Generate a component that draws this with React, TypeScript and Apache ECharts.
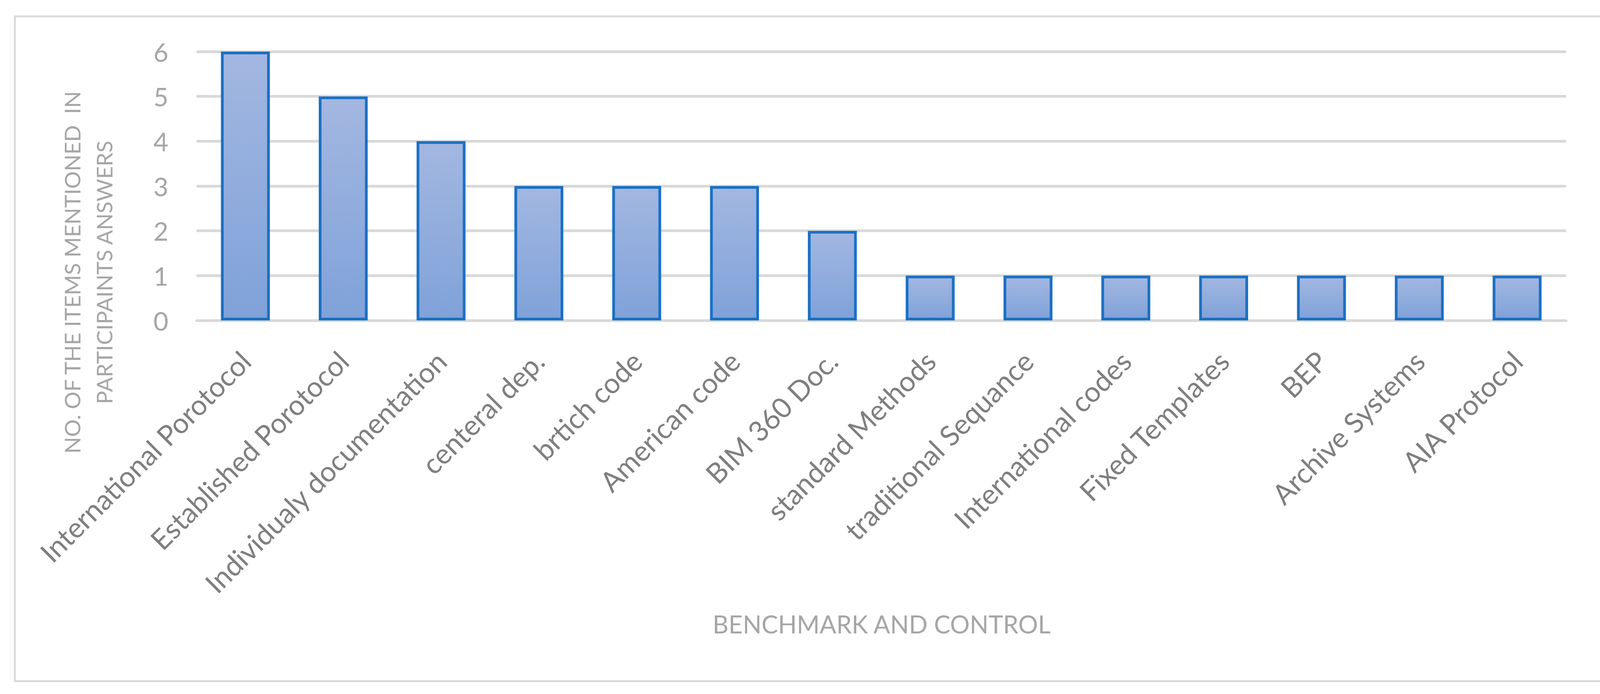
import React, { useEffect, useRef } from "react";
import * as echarts from "echarts";

const categories = [
  "International Porotocol",
  "Established Porotocol",
  "Individualy documentation",
  "centeral dep.",
  "brtich code",
  "American code",
  "BIM 360 Doc.",
  "standard Methods",
  "traditional Sequance",
  "International codes",
  "Fixed Templates",
  "BEP",
  "Archive Systems",
  "AIA Protocol",
];
const counts = [6, 5, 4, 3, 3, 3, 2, 1, 1, 1, 1, 1, 1, 1];
const yMin = 0;
const yMax = 6;
const yStep = 1;
const xTitle = "BENCHMARK AND CONTROL";
const yTitleLines = ["NO. OF THE ITEMS MENTIONED  IN", "PARTICIPAINTS ANSWERS"];

const FONT = "Lato, 'Open Sans', sans-serif";

export default function App() {
  const ref = useRef<HTMLDivElement>(null);
  useEffect(() => {
    if (!ref.current) return;
    const chart = echarts.init(ref.current, null, { renderer: "svg" });
    chart.setOption({
      animation: false,
      backgroundColor: "#ffffff",
      textStyle: { fontFamily: FONT },
      grid: { left: 503, right: 137, top: 132, bottom: 956, containLabel: false, outerBoundsMode: "none" },
      xAxis: {
        type: "category",
        data: categories,
        axisLine: { show: true, lineStyle: { color: "#d9d9d9", width: 7 } },
        axisTick: { show: false },
        axisLabel: {
          interval: 0,
          rotate: 45,
          margin: 91,
          fontSize: 72,
          color: "#7f7f7f",
          fontFamily: FONT,
          verticalAlign: "middle",
        },
      },
      yAxis: {
        type: "value",
        min: yMin,
        max: yMax,
        interval: yStep,
        axisLine: { show: false },
        axisTick: { show: false },
        splitLine: { show: true, lineStyle: { color: "#d9d9d9", width: 7 } },
        axisLabel: { margin: 72, fontSize: 66, color: "#a6a6a6", fontFamily: FONT },
      },
      series: [
        {
          type: "bar",
          data: counts,
          barWidth: "50%",
          itemStyle: {
            color: new echarts.graphic.LinearGradient(0, 0, 0, 1, [
              { offset: 0, color: "#a3b7e1" },
              { offset: 1, color: "#7fa2d9" },
            ]),
            borderColor: "#1a70c4",
            borderWidth: 7,
          },
        },
      ],
      graphic: [
        {
          type: "rect",
          z: -10,
          shape: { x: 38, y: 42, width: 4062, height: 1701 },
          style: { fill: "none", stroke: "#d9d9d9", lineWidth: 5 },
        },
        {
          type: "text",
          x: 225,
          y: 697,
          rotation: Math.PI / 2,
          style: {
            text: yTitleLines.join("\n"),
            fontSize: 56,
            lineHeight: 82,
            fill: "#a6a6a6",
            fontFamily: FONT,
            align: "center",
            verticalAlign: "middle",
          },
        },
        {
          type: "text",
          x: 2257,
          y: 1596,
          style: {
            text: xTitle,
            fontSize: 63,
            fill: "#a6a6a6",
            fontFamily: FONT,
            align: "center",
            verticalAlign: "middle",
          },
        },
      ],
    });
    return () => chart.dispose();
  }, []);
  return (
    <div
      ref={ref}
      style={{ position: "fixed", left: 0, top: 0, width: 4146, height: 1776, background: "#fff" }}
    />
  );
}
